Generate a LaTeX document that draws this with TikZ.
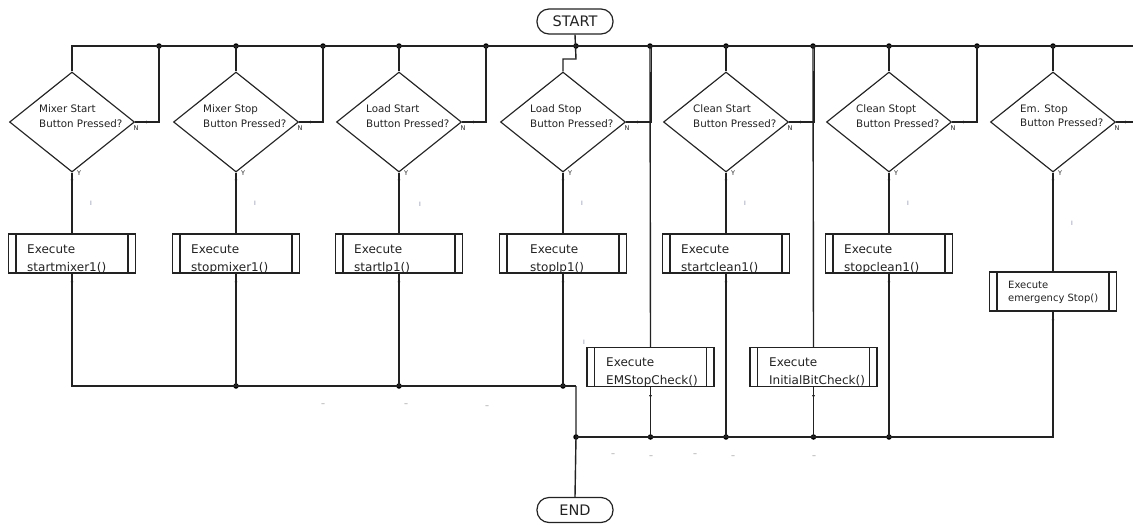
\documentclass[tikz,border=0pt]{standalone}
\usepackage{fontspec}
\setmainfont{DejaVu Sans}
\usetikzlibrary{shapes.geometric,arrows.meta,decorations.markings}
\definecolor{ink}{HTML}{222222}
\definecolor{straymark}{HTML}{7C819C}
\definecolor{straydash}{HTML}{8C8C8C}
\begin{document}
\begin{tikzpicture}[x=1pt,y=-1pt,
  line/.style={draw=ink,line width=1.4pt},
  decision/.style={diamond,draw=ink,line width=1.15pt,minimum width=125pt,minimum height=100pt,inner sep=0pt},
  procbox/.style={rectangle,draw=ink,line width=1.25pt,minimum width=127pt,minimum height=39pt,inner sep=0pt,
    path picture={\draw[ink,line width=1.25pt]
      ([xshift=7.5pt]path picture bounding box.north west) -- ([xshift=7.5pt]path picture bounding box.south west)
      ([xshift=-7.5pt]path picture bounding box.north east) -- ([xshift=-7.5pt]path picture bounding box.south east);}},
  terminal/.style={rectangle,rounded corners=12pt,draw=ink,line width=1.2pt,minimum width=76pt,minimum height=25pt,
    inner sep=0pt,text=ink,font=\fontsize{14.5}{16}\selectfont},
  qtext/.style={anchor=north west,align=left,inner sep=0pt,text=ink,font=\fontsize{10.3}{14.5}\selectfont},
  ptext/.style={anchor=north west,align=left,inner sep=0pt,text=ink,font=\fontsize{12}{18}\selectfont},
  yn/.style={inner sep=0pt,text=ink,font=\fontsize{6.5}{7}\selectfont},
  jdot/.style={circle,fill=black,inner sep=0pt,minimum size=5.5pt},
  smark/.style={inner sep=0pt,text=straymark,font=\fontsize{6}{7}\selectfont},
  sdash/.style={inner sep=0pt,text=straydash,font=\fontsize{8}{9}\selectfont},
  flowmark/.style={postaction={decorate,decoration={markings,
    mark=at position #1 with {\arrow{Latex[length=3pt,width=3pt]}}}}}
]
\useasboundingbox (0,0) rectangle (1133,523);

% terminals
\node[terminal] (start) at (575,21.5) {START};
\node[terminal] (end) at (575,510) {END};

% decisions with their labels
\foreach \i/\xc/\la/\lb in {1/72/Mixer Start/Button Pressed?,
                            2/236/Mixer Stop/Button Pressed?,
                            3/399/Load Start/Button Pressed?,
                            4/563/Load Stop/Button Pressed?,
                            5/726/Clean Start/Button Pressed?,
                            6/889/Clean Stopt/Button Pressed?,
                            7/1053/Em. Stop/Button Pressed?}{
  \node[decision] (d\i) at (\xc,122) {};
  \node[qtext] (q\i) at (\xc-33,104.5) {\la\\\lb};
  \node[yn] (y\i) at (\xc+7,173.5) {Y};
  \node[yn] (nl\i) at (\xc+64,128.5) {N};
}

% predefined-process boxes
\foreach \i/\xc/\dx/\txt in {1/72/45/startmixer1(),
                             2/236/45/stopmixer1(),
                             3/399/45/startlp1(),
                             4/563/33/stoplp1(),
                             5/726/45/startclean1(),
                             6/889/45/stopclean1()}{
  \node[procbox] (b\i) at (\xc,253.5) {};
  \node[ptext] (p\i) at (\xc-\dx,244.5) {Execute\\\txt};
}
\node[procbox] (b7) at (1053,291.5) {};
\node[ptext,font=\fontsize{10}{13}\selectfont] (p7) at (1008,281) {Execute\\emergency Stop()};
\node[procbox] (e1) at (650.5,367) {};
\node[ptext] (pe1) at (606,358) {Execute\\EMStopCheck()};
\node[procbox] (e2) at (813.5,367) {};
\node[ptext] (pe2) at (769,358) {Execute\\InitialBitCheck()};

% junction dots on the top bus
\coordinate (busend) at (1133,46);
\foreach \n/\x in {n1/159,a2/236,n2/323,a3/399,n3/486,s0/576,v1/650,a5/726,v2/813,a6/889,n6/977,a7/1053}
  \node[jdot] (\n) at (\x,46) {};
\coordinate (n4) at (651.3,46);
\coordinate (n5) at (814.3,46);
\coordinate (n7) at (1133,122);
\coordinate (j4) at (576,59);

% top bus and diamond entries
\draw[line] (d1.north) |- (busend);
\foreach \i/\a in {2/a2,3/a3,5/a5,6/a6,7/a7}
  \draw[line] (\a.center) -- (d\i.north);
\draw[line] (start.south) -- (j4) -| (d4.north);

% "N" branches back to the bus
\foreach \i/\n in {1/n1,2/n2,3/n3,6/n6}
  \draw[line,flowmark=14pt] (d\i.east) -| (\n.center);
\draw[line,flowmark=14pt] (d4.east) -| (n4);
\draw[line,flowmark=14pt] (d5.east) -| (n5);
\draw[line,flowmark=12pt] (d7.east) -- (n7);

% "Y" branches into the boxes
\foreach \i in {1,...,7}
  \draw[line,flowmark=10pt] (d\i.south) -- (b\i.north);

% lines down to the check boxes
\draw[line] (v1.center) -- (e1.north);
\draw[line] (v2.center) -- (e2.north);

% bottom buses
\coordinate (m0) at (576,386);
\node[jdot] (r0) at (576,437) {};
\foreach \n/\x in {l2/236,l3/399,l4/563}
  \node[jdot] (\n) at (\x,386) {};
\foreach \n/\x in {r1/650.5,r2/726,r3/813.5,r4/889}
  \node[jdot] (\n) at (\x,437) {};

\draw[line,flowmark=11pt] (b1.south) |- (m0);
\draw[line,flowmark=11pt] (b2.south) -- (l2.center);
\draw[line,flowmark=11pt] (b3.south) -- (l3.center);
\draw[line,flowmark=11pt] (b4.south) -- (l4.center);
\draw[line] (m0) -- (r0.center) -- (end.north);
\draw[line,flowmark=11pt] (b7.south) |- (r0.center);
\draw[line,flowmark=11pt] (e1.south) -- (r1.center);
\draw[line,flowmark=11pt] (b5.south) -- (r2.center);
\draw[line,flowmark=11pt] (e2.south) -- (r3.center);
\draw[line,flowmark=11pt] (b6.south) -- (r4.center);

% small leftover marks
\foreach \k/\x/\y in {1/91/203,2/255/203,3/420/204,4/582/203,5/745/203,6/908/203,7/1072/223,8/584/342}
  \node[smark] (sm\k) at (\x,\y) {I};
\foreach \k/\x/\y in {1/323/405,2/406/405,3/487/407,4/613/455,5/651/457,6/695/455,7/733/457,8/814/457}
  \node[sdash] (sd\k) at (\x,\y) {–};
\end{tikzpicture}
\end{document}
